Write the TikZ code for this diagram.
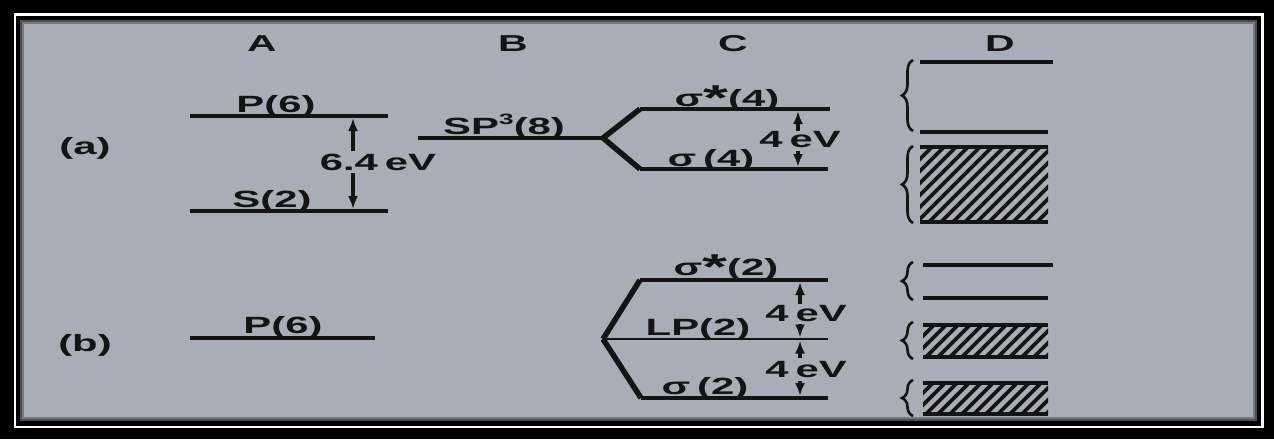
\documentclass[tikz,border=0pt]{standalone}
\usepackage{fontspec}
\setmainfont{Liberation Sans}
\usetikzlibrary{arrows.meta,decorations.pathreplacing}
\definecolor{bg}{HTML}{A8ADB8}
\definecolor{ink}{HTML}{141414}
\newcommand{\sstar}{\raisebox{-4pt}{\fontsize{36}{36}\selectfont *}}
\begin{document}
\begin{tikzpicture}[x=1pt,y=-1pt,
  lvl/.style={line width=3.4pt, draw=ink},
  branch/.style={line width=5.5pt, draw=ink, line join=miter, line cap=butt},
  thinlvl/.style={line width=2pt, draw=ink},
  gaparrow/.style={line width=3.4pt, draw=ink, -{Latex[length=13pt,width=10pt]}},
  lbl/.style={text=ink, font=\fontsize{23.5}{26}\selectfont\bfseries, xscale=1.78, inner sep=0pt, anchor=base},
  head/.style={lbl, font=\fontsize{23}{26}\selectfont\bfseries},
  hatch/.style={line width=3.8pt, draw=ink},
  bandedge/.style={line width=4.5pt, draw=ink},
  curly/.style={line width=2.6pt, draw=ink, decorate, decoration={brace, amplitude=11pt}}
]
\useasboundingbox (0,0) rectangle (1274,439);
% frame
\fill[black] (0,0) rectangle (1274,439);
\draw[white, line width=2.6pt] (15,14.5) rectangle (1262.5,427);
\fill[bg] (20,20) rectangle (1257,421);
\draw[bg!45!black, line width=2pt] (21,21) rectangle (1256,420);
\draw[bg!70!black, line width=2pt] (23,23) rectangle (1254,418);

% column heads
\node[head] (hA) at (262,51) {A};
\node[head] (hB) at (513,51) {B};
\node[head] (hC) at (733,51) {C};
\node[head] (hD) at (1000,51) {D};
\node[lbl, anchor=center] (ra) at (85,148) {(a)};
\node[lbl, anchor=center] (rb) at (85,345) {(b)};

% ---------- row (a) ----------
% A
\coordinate (aP1) at (190,116); \coordinate (aP2) at (388,116);
\coordinate (aS1) at (190,211); \coordinate (aS2) at (388,211);
\draw[lvl] (aP1) -- (aP2);
\draw[lvl] (aS1) -- (aS2);
\node[lbl] (aPl) at (276,112) {P(6)};
\node[lbl] (aSl) at (272,207) {S(2)};
\coordinate (aAu0) at (353,151); \coordinate (aAu1) at (353,118);
\coordinate (aAd0) at (353,173); \coordinate (aAd1) at (353,209);
\draw[gaparrow] (aAu0) -- (aAu1);
\draw[gaparrow] (aAd0) -- (aAd1);
\node[lbl] (aE) at (378,170) {6.4\,eV};
% B
\coordinate (aB1) at (418,138); \coordinate (aV) at (603,138);
\draw[lvl] (aB1) -- (aV);
\node[lbl] (aBl) at (504,134) {SP\raisebox{10pt}{\fontsize{15}{15}\selectfont\bfseries 3}(8)};
% C
\coordinate (aU1) at (640,109); \coordinate (aU2) at (830,109);
\coordinate (aL1) at (640,169); \coordinate (aL2) at (828,169);
\draw[branch] (aV) -- (aU1);
\draw[branch] (aV) -- (aL1);
\draw[lvl] (aU1) -- (aU2);
\draw[lvl] (aL1) -- (aL2);
\node[lbl] (aUl) at (727,106) {σ\sstar(4)};
\node[lbl] (aLl) at (711,166) {σ\,(4)};
\coordinate (aCu0) at (798,131); \coordinate (aCu1) at (798,111);
\coordinate (aCd0) at (798,151); \coordinate (aCd1) at (798,167);
\draw[gaparrow] (aCu0) -- (aCu1);
\draw[gaparrow] (aCd0) -- (aCd1);
\node[lbl] (aCE) at (800,147) {4\,eV};
% D
\coordinate (aD1) at (920,62); \coordinate (aD2) at (1053,62);
\coordinate (aD3) at (920,132); \coordinate (aD4) at (1048,132);
\draw[lvl] (aD1) -- (aD2);
\draw[lvl] (aD3) -- (aD4);
\draw[curly] (913,131) -- (913,60);
\begin{scope}
  \clip (920,147) rectangle (1048,222);
  \foreach \i in {0,...,18} \draw[hatch] ({845+\i*12},222) -- ++(75,-75);
\end{scope}
\draw[bandedge] (920,147) -- (1048,147);
\draw[bandedge] (920,222) -- (1048,222);
\draw[curly] (913,223) -- (913,146);

% ---------- row (b) ----------
\coordinate (bP1) at (190,338); \coordinate (bP2) at (375,338);
\draw[lvl] (bP1) -- (bP2);
\node[lbl] (bPl) at (283,333) {P(6)};
% C
\coordinate (bV) at (603,339);
\coordinate (bU1) at (640,280); \coordinate (bU2) at (828,280);
\coordinate (bM2) at (828,339);
\coordinate (bL1) at (641,398); \coordinate (bL2) at (828,398);
\draw[branch] (bV) -- (bU1);
\draw[branch] (bV) -- (bL1);
\draw[lvl] (bU1) -- (bU2);
\draw[thinlvl] (bV) -- (bM2);
\draw[lvl] (bL1) -- (bL2);
\node[lbl] (bUl) at (726,275) {σ\sstar(2)};
\node[lbl] (bMl) at (698,335) {LP(2)};
\node[lbl] (bLl) at (705,394) {σ\,(2)};
\coordinate (bA1) at (800,304); \coordinate (bA2) at (800,282);
\coordinate (bA3) at (800,324); \coordinate (bA4) at (800,337.5);
\coordinate (bA5) at (800,358); \coordinate (bA6) at (800,340.5);
\coordinate (bA7) at (800,381); \coordinate (bA8) at (800,396);
\draw[gaparrow] (bA1) -- (bA2);
\draw[gaparrow] (bA3) -- (bA4);
\draw[gaparrow] (bA5) -- (bA6);
\draw[gaparrow] (bA7) -- (bA8);
\node[lbl] (bE1) at (806,321) {4\,eV};
\node[lbl] (bE2) at (806,377) {4\,eV};
% D
\coordinate (bD1) at (923,265); \coordinate (bD2) at (1053,265);
\coordinate (bD3) at (923,298); \coordinate (bD4) at (1048,298);
\draw[lvl] (bD1) -- (bD2);
\draw[lvl] (bD3) -- (bD4);
\draw[curly] (913,300) -- (913,262);
\begin{scope}
  \clip (923,325) rectangle (1048,357);
  \foreach \i in {0,...,14} \draw[hatch] ({890+\i*12},357) -- ++(32,-32);
\end{scope}
\draw[bandedge] (923,325) -- (1048,325);
\draw[bandedge] (923,357) -- (1048,357);
\draw[curly] (913,359) -- (913,322);
\begin{scope}
  \clip (923,383) rectangle (1048,414);
  \foreach \i in {0,...,14} \draw[hatch] ({890+\i*12},414) -- ++(31,-31);
\end{scope}
\draw[bandedge] (923,383) -- (1048,383);
\draw[bandedge] (923,414) -- (1048,414);
\draw[curly] (913,416) -- (913,380);
\end{tikzpicture}
\end{document}
